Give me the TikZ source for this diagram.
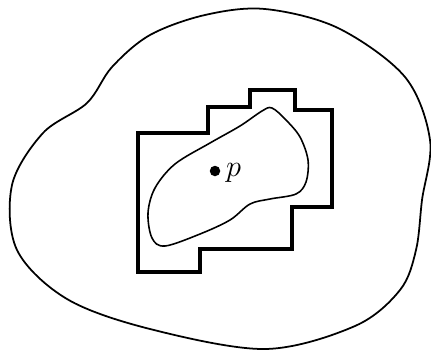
\documentclass[tikz,border=0pt]{standalone}
\usepackage{amsmath,amssymb}
\usepackage{tikz}
\usetikzlibrary{positioning}

\begin{document}
\begin{tikzpicture}[x=0.02cm,y=-0.02cm]
      \useasboundingbox (0,0) rectangle (431,352);
      \draw[line width=1pt] plot[smooth cycle,tension=0.55] coordinates {(265,9) (338,28) (405,77) (430,140) (422,200) (416,250) (400,290) (355,326) (265,349) (150,329) (67,299) (17,250) (12,185) (43,133) (87,103) (112,67) (150,35) (205,15)};
      \draw[line width=2.2pt,line join=miter] (138,133) -- (208,133) -- (208,107) -- (250,107) -- (250,90) -- (295,90) -- (295,110) -- (332,110) -- (332,207) -- (292,207) -- (292,249) -- (200,249) -- (200,272) -- (138,272) -- cycle;
      \draw[line width=0.9pt] plot[smooth cycle,tension=0.55] coordinates {(272,108) (286,120) (300,137) (308,160) (306,182) (296,194) (270,199) (250,204) (230,220) (200,234) (165,246) (152,238) (148,213) (155,188) (175,164) (210,143) (240,126) (262,111)};
      \node[circle,fill,inner sep=0pt,minimum size=0.21cm] (dot) at (215,171) {};
      \node[font=\LARGE,inner sep=1pt,right=2pt of dot,yshift=-1pt] (plabel) {\(p\)};
    \end{tikzpicture}
\end{document}
